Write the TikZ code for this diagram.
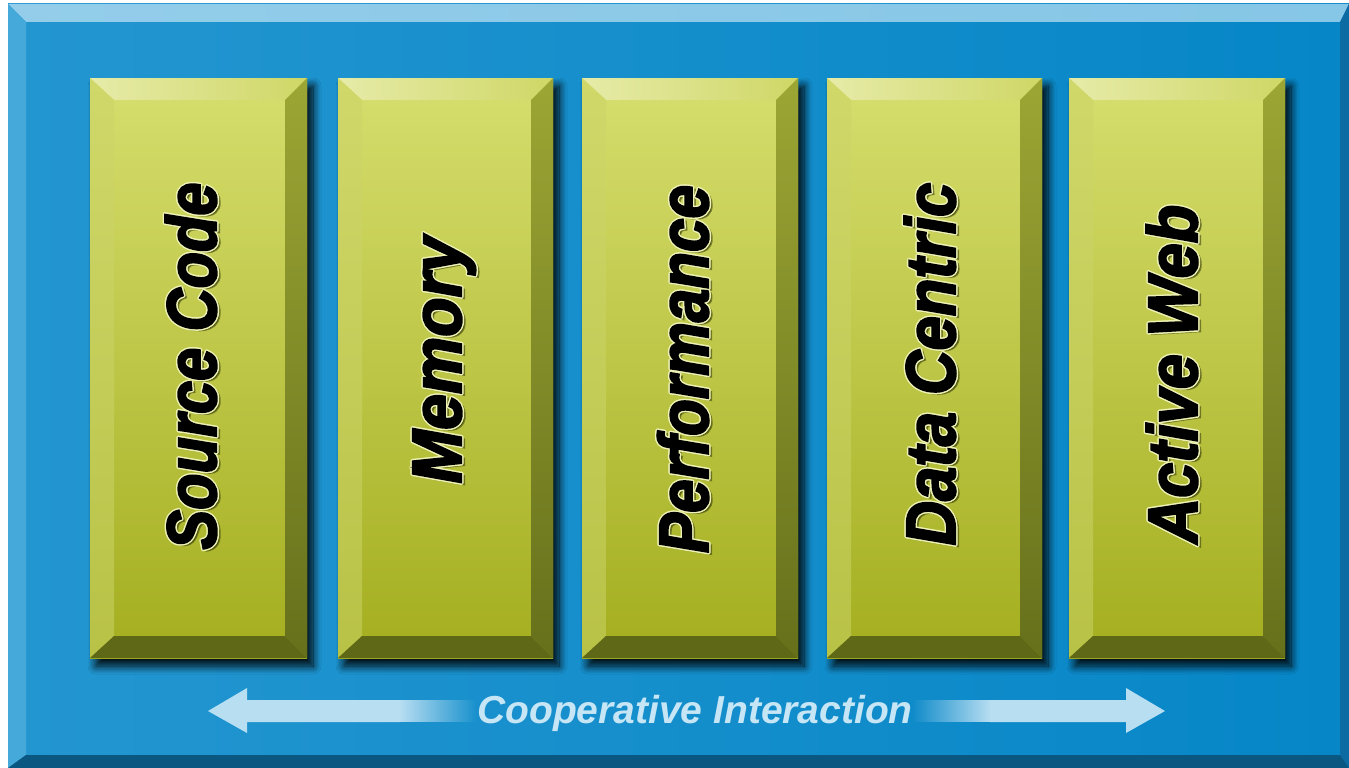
\documentclass[tikz,border=0pt]{standalone}
\usepackage{fontspec}
\setmainfont{Liberation Sans}
\newfontfamily\labfont[BoldItalicFeatures={FakeBold=3}]{Liberation Sans}
\usetikzlibrary{shadows.blur,fadings}
\definecolor{bgL}{HTML}{2396D0}
\definecolor{bgR}{HTML}{0686C7}
\definecolor{frTop}{HTML}{93CDEA}
\definecolor{frTopR}{HTML}{86C6E6}
\definecolor{frLeft}{HTML}{45A9DA}
\definecolor{frBot}{HTML}{0A5882}
\definecolor{frRight}{HTML}{0B6BA2}
\definecolor{faceT}{HTML}{D6DE6E}
\definecolor{faceB}{HTML}{A4AE1E}
\definecolor{bevTl}{HTML}{E6EBA8}
\definecolor{bevTr}{HTML}{CFD766}
\definecolor{bevLt}{HTML}{D0D86A}
\definecolor{bevLb}{HTML}{B8C246}
\definecolor{bevRt}{HTML}{9CA634}
\definecolor{bevRb}{HTML}{66701B}
\definecolor{bevB}{HTML}{5E6817}
\definecolor{halo}{HTML}{EEF2B4}
\definecolor{shadc}{HTML}{3A4008}
\definecolor{arrowc}{HTML}{B8DEF2}
\definecolor{arrowtext}{HTML}{C6E6F6}
\tikzfading[name=fadeR, left color=transparent!0, right color=transparent!100]
\tikzfading[name=fadeL, left color=transparent!100, right color=transparent!0]
\tikzset{
  boxshadow/.style={blur shadow={shadow xshift=6pt, shadow yshift=-8pt, shadow blur radius=8pt, shadow blur steps=12, shadow opacity=95}},
  labs/.style={rotate=90, anchor=base, inner sep=0pt, font=\labfont\fontsize{70}{70}\selectfont\bfseries\itshape},
  arrowlabel/.style={anchor=base, inner sep=0pt, text=arrowtext, font=\fontsize{39}{39}\selectfont\bfseries\itshape}
}
\newcommand\bevbox[2]{%
  \path[boxshadow] (#1,78) rectangle (#2,658);
  \shade[top color=faceT, bottom color=faceB] (#1,78) rectangle (#2,658);
  \shade[left color=bevTl, right color=bevTr] (#1,78) -- (#2,78) -- ({#2-22},100) -- ({#1+24},100) -- cycle;
  \shade[top color=bevLt, bottom color=bevLb] (#1,78) -- ({#1+24},100) -- ({#1+24},636) -- (#1,658) -- cycle;
  \shade[top color=bevRt, bottom color=bevRb] (#2,78) -- (#2,658) -- ({#2-22},636) -- ({#2-22},100) -- cycle;
  \fill[bevB] (#1,658) -- ({#1+24},636) -- ({#2-22},636) -- (#2,658) -- cycle;
}
\newcommand\lbl[5]{% name, x(baseline), y(center), xscale, text
  \node[labs, text=shadc, opacity=.55] at ({#2+3},{#3+2}) {\scalebox{#4}[1]{#5}};
  \foreach \dx/\dy in {-1.5/0,1.5/0,0/-1.5,0/1.5,-1/-1,1/1,-1/1,1/-1}
    \node[labs, text=halo] at ({#2+\dx},{#3+\dy}) {\scalebox{#4}[1]{#5}};
  \node[labs, text=black] (#1) at (#2,#3) {\scalebox{#4}[1]{#5}};
}
\begin{document}
\begin{tikzpicture}[x=1pt,y=-1pt]
\useasboundingbox (0,0) rectangle (1349,768);
\fill[white] (0,0) rectangle (1349,768);
% frame
\shade[left color=bgL, right color=bgR] (8,4) rectangle (1349,768);
\shade[left color=frTop, right color=frTopR] (8,4) -- (1349,4) -- (1340,22) -- (26,22) -- cycle;
\fill[frLeft] (8,4) -- (26,22) -- (26,755) -- (8,768) -- cycle;
\fill[frRight] (1349,4) -- (1340,22) -- (1340,755) -- (1349,768) -- cycle;
\fill[frBot] (8,768) -- (26,755) -- (1340,755) -- (1349,768) -- cycle;
% boxes
\bevbox{90}{307}
\bevbox{338}{553}
\bevbox{582}{798}
\bevbox{827}{1042}
\bevbox{1069}{1285}
% labels
\lbl{src}{216}{366}{0.85}{Source Code}
\lbl{mem}{461}{360}{0.92}{Memory}
\lbl{perf}{708}{369}{0.86}{Performance}
\lbl{data}{955}{364}{0.88}{Data Centric}
\lbl{web}{1197}{374}{0.90}{Active Web}
% arrow
\fill[arrowc] (208,711) -- (247,688) -- (247,700) -- (400,700) -- (400,722) -- (247,722) -- (247,733) -- cycle;
\fill[arrowc, path fading=fadeR] (399.5,700) rectangle (476,722);
\fill[arrowc] (1165,711) -- (1126,688) -- (1126,700) -- (990,700) -- (990,722) -- (1126,722) -- (1126,733) -- cycle;
\fill[arrowc, path fading=fadeL] (912,700) rectangle (990.5,722);
\node[arrowlabel] (coop) at (695,723) {Cooperative Interaction};
\end{tikzpicture}
\end{document}
